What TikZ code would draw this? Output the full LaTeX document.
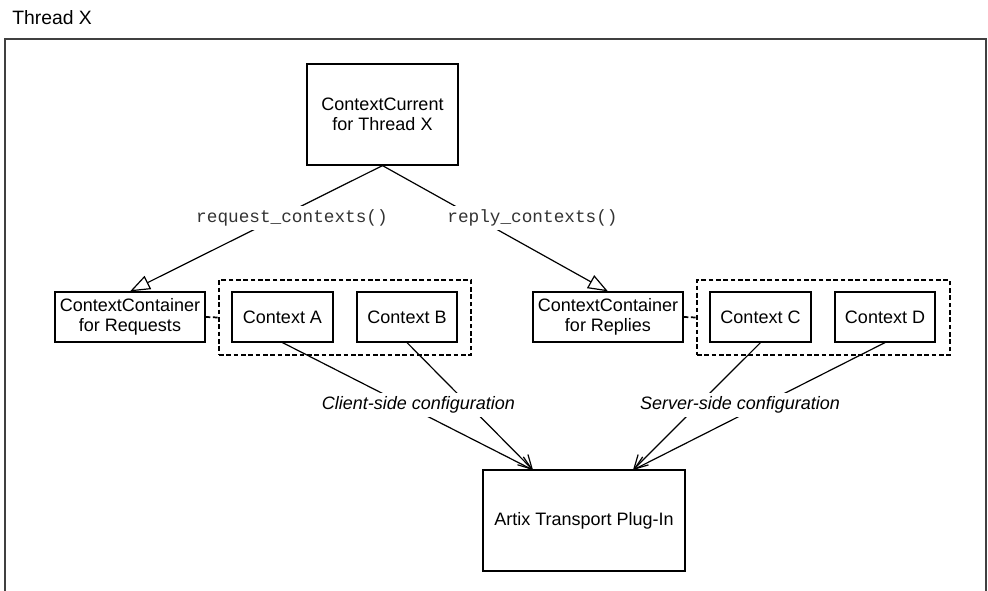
\documentclass[tikz,border=0pt]{standalone}
\usepackage{fontspec}
\setmainfont{Liberation Sans}
\setmonofont{Liberation Mono}
\usetikzlibrary{arrows.meta}
\tikzset{
  box/.style={draw, line width=0.9pt, inner sep=0pt, align=center, font=\fontsize{13.5}{15}\selectfont},
  group/.style={draw, line width=1.4pt, dash pattern=on 3.5pt off 2pt, inner sep=0pt},
  callname/.style={fill=white, inner sep=3pt, text=black!80, font=\ttfamily\fontsize{13.3}{15}\selectfont},
  cfgname/.style={fill=white, inner sep=3pt, font=\itshape\fontsize{13.5}{15}\selectfont},
  holds/.style={line width=0.9pt, -{Triangle[open, length=15pt, width=11pt, fill=white]}},
  feeds/.style={line width=0.9pt, -{Straight Barb[length=10pt, width=11pt]}}
}
\begin{document}
\begin{tikzpicture}[x=0.75pt, y=-0.75pt]
\useasboundingbox (0,0) rectangle (988,591);
\node[anchor=west, inner sep=0pt, font=\fontsize{14.5}{15}\selectfont] (title) at (12,18) {Thread X};
\draw[line width=1.5pt, black!75] (5,595) -- (5,39) -- (986,39) -- (986,595);
\node[box, minimum width=113.25pt, minimum height=75.75pt] (cur) at (382.5,114.5) {ContextCurrent\\for Thread X};
\node[box, minimum width=112.5pt, minimum height=37.5pt] (reqc) at (130,317) {ContextContainer\\for Requests};
\node[group, minimum width=189pt, minimum height=56.25pt] (grp1) at (345,317.5) {};
\node[box, minimum width=75.75pt, minimum height=37.5pt] (ctxA) at (282.5,317) {Context A};
\node[box, minimum width=75pt, minimum height=37.5pt] (ctxB) at (407,317) {Context B};
\node[box, minimum width=112.5pt, minimum height=37.5pt] (repc) at (608,317) {ContextContainer\\for Replies};
\node[group, minimum width=189.75pt, minimum height=56.25pt] (grp2) at (823.5,317.5) {};
\node[box, minimum width=75.75pt, minimum height=37.5pt] (ctxC) at (760.5,317) {Context C};
\node[box, minimum width=75pt, minimum height=37.5pt] (ctxD) at (885,317) {Context D};
\node[box, minimum width=151.5pt, minimum height=75.75pt] (artix) at (584,520.5) {Artix Transport Plug-In};
\coordinate (inL) at (533,470);
\coordinate (inR) at (633,470);
\draw[group, line width=1.3pt](reqc.east) -- (grp1.west);
\draw[group, line width=1.3pt](repc.east) -- (grp2.west);
\draw[holds](cur.south) -- (reqc.north);
\draw[holds](cur.south) -- (repc.north);
\draw[feeds](ctxA.south) -- (inL);
\draw[feeds](ctxB.south) -- (inL);
\draw[feeds](ctxC.south) -- (inR);
\draw[feeds](ctxD.south) -- (inR);
\node[callname] (reqcall) at (292,218) {request\_contexts()};
\node[callname] (repcall) at (532.5,218) {reply\_contexts()};
\node[cfgname] (client) at (418.5,405) {Client-side configuration};
\node[cfgname] (server) at (740,405) {Server-side configuration};
\end{tikzpicture}
\end{document}
